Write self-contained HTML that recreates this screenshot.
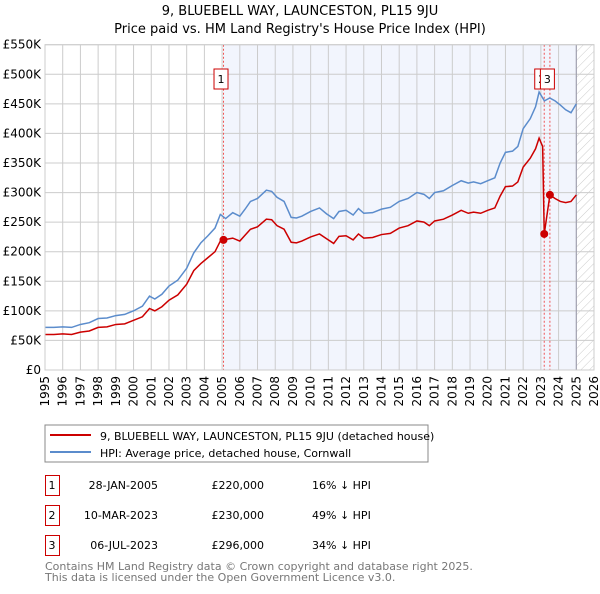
<!DOCTYPE html>
<html><head><meta charset="utf-8"><style>
body{margin:0;background:#fff;font-family:"DejaVu Sans","Liberation Sans",sans-serif;}
svg text{font-family:"DejaVu Sans","Liberation Sans",sans-serif;}
</style></head><body>
<svg id="c" width="600" height="590" viewBox="0 0 600 590" xmlns="http://www.w3.org/2000/svg">
<defs><pattern id="hatch" width="6" height="6" patternUnits="userSpaceOnUse" patternTransform="rotate(45)"><line x1="0" y1="0" x2="0" y2="6" stroke="#ccc" stroke-width="1"/></pattern></defs>
<text x="300" y="15" text-anchor="middle" font-size="13">9, BLUEBELL WAY, LAUNCESTON, PL15 9JU</text>
<text x="300" y="33" text-anchor="middle" font-size="13">Price paid vs. HM Land Registry's House Price Index (HPI)</text>
<g id="plot"></g>
<rect x="45" y="425" width="383" height="37" fill="#fff" stroke="#888"/>
<line x1="50" y1="435" x2="91" y2="435" stroke="#cc0000" stroke-width="2"/>
<text x="100" y="440" font-size="11">9, BLUEBELL WAY, LAUNCESTON, PL15 9JU (detached house)</text>
<line x1="50" y1="452" x2="91" y2="452" stroke="#5b8ccc" stroke-width="2"/>
<text x="100" y="457" font-size="11">HPI: Average price, detached house, Cornwall</text>
<g font-size="11">
<rect x="45.5" y="475.5" width="14" height="20" fill="none" stroke="#cc0000"/><text x="52" y="489" text-anchor="middle">1</text>
<text x="158" y="489" text-anchor="end">28-JAN-2005</text><text x="264" y="489" text-anchor="end">£220,000</text><text x="312" y="489">16% ↓ HPI</text>
<rect x="45.5" y="505.5" width="14" height="20" fill="none" stroke="#cc0000"/><text x="52" y="519" text-anchor="middle">2</text>
<text x="158" y="519" text-anchor="end">10-MAR-2023</text><text x="264" y="519" text-anchor="end">£230,000</text><text x="312" y="519">49% ↓ HPI</text>
<rect x="45.5" y="535.5" width="14" height="20" fill="none" stroke="#cc0000"/><text x="52" y="549" text-anchor="middle">3</text>
<text x="158" y="549" text-anchor="end">06-JUL-2023</text><text x="264" y="549" text-anchor="end">£296,000</text><text x="312" y="549">34% ↓ HPI</text>
</g>
<text x="45" y="570" font-size="11" fill="#777">Contains HM Land Registry data © Crown copyright and database right 2025.</text>
<text x="45" y="581" font-size="11" fill="#777">This data is licensed under the Open Government Licence v3.0.</text>
</svg>
<script>
const yTicks=[0,50,100,150,200,250,300,350,400,450,500,550];
const yTickLabels=["£0","£50K","£100K","£150K","£200K","£250K","£300K","£350K","£400K","£450K","£500K","£550K"];
const xYears=[1995,1996,1997,1998,1999,2000,2001,2002,2003,2004,2005,2006,2007,2008,2009,2010,2011,2012,2013,2014,2015,2016,2017,2018,2019,2020,2021,2022,2023,2024,2025,2026];
const hpiT=[1995,1995.5,1996,1996.5,1997,1997.5,1998,1998.5,1999,1999.5,2000,2000.5,2000.9,2001.2,2001.6,2002,2002.5,2003,2003.4,2003.8,2004.2,2004.6,2004.9,2005.2,2005.6,2006,2006.3,2006.6,2007,2007.5,2007.8,2008.1,2008.5,2008.9,2009.2,2009.5,2010,2010.5,2010.9,2011.3,2011.6,2012,2012.4,2012.7,2013,2013.5,2014,2014.5,2015,2015.5,2016,2016.4,2016.7,2017,2017.5,2018,2018.5,2018.9,2019.2,2019.6,2020,2020.4,2020.7,2021,2021.4,2021.7,2022,2022.4,2022.7,2022.9,2023.2,2023.5,2023.8,2024.1,2024.4,2024.7,2025];
const hpiV=[72,72,73,72,77,80,87,88,92,94,100,108,125,120,128,142,152,172,198,215,227,240,263,256,266,260,272,285,290,304,302,292,285,258,257,260,268,274,264,256,268,270,262,273,265,266,272,275,285,290,300,297,290,300,303,312,320,316,318,315,320,325,350,368,370,378,408,425,445,470,455,460,455,448,440,435,450];
const priceT=[1995,1995.5,1996,1996.5,1997,1997.5,1998,1998.5,1999,1999.5,2000,2000.5,2000.9,2001.2,2001.6,2002,2002.5,2003,2003.4,2003.8,2004.2,2004.6,2004.9,2005.08,2005.6,2006,2006.3,2006.6,2007,2007.5,2007.8,2008.1,2008.5,2008.9,2009.2,2009.5,2010,2010.5,2010.9,2011.3,2011.6,2012,2012.4,2012.7,2013,2013.5,2014,2014.5,2015,2015.5,2016,2016.4,2016.7,2017,2017.5,2018,2018.5,2018.9,2019.2,2019.6,2020,2020.4,2020.7,2021,2021.4,2021.7,2022,2022.4,2022.7,2022.9,2023.1,2023.19,2023.51,2023.8,2024.1,2024.4,2024.7,2025];
const priceV=[60,60,61,60,64,66,72,73,77,78,84,90,104,100,107,118,127,145,168,180,190,200,218,220,223,218,228,238,242,255,254,244,238,216,215,218,225,230,222,214,226,227,220,230,223,224,229,231,240,244,252,250,244,252,255,262,270,265,267,265,270,274,294,310,311,318,343,358,374,392,378,230,296,290,285,283,285,296];
const sales=[{id:"1",t:2005.08,v:220},{id:"2",t:2023.19,v:230},{id:"3",t:2023.51,v:296}];
const X0=45,X1=594,Y0=370,Y1=44.7;
const xs=t=>X0+(t-1995)/(2026-1995)*(X1-X0);
const ys=v=>Y0-v/550*(Y0-Y1);
const NS="http://www.w3.org/2000/svg",g=document.getElementById('plot');
function mk(tag,a,p){const e=document.createElementNS(NS,tag);for(const k in a)e.setAttribute(k,a[k]);(p||g).appendChild(e);return e;}
const bg=mk('rect',{x:xs(2005.08),y:Y1,width:xs(2025)-xs(2005.08),height:Y0-Y1,fill:'#f2f5fd'});


const hat=mk('rect',{x:xs(2025),y:Y1,width:X1-xs(2025),height:Y0-Y1,fill:'url(#hatch)'});


yTicks.forEach((v,i)=>{
 const l=mk('line',{x1:X0,x2:X1,y1:ys(v),y2:ys(v),stroke:'#ccc'});
 
 
 const t=mk('text',{x:41,y:ys(v)+4,'text-anchor':'end','font-size':12});
 t.textContent=yTickLabels[i];
 
 
});
xYears.forEach(yr=>{
 const l=mk('line',{x1:xs(yr),x2:xs(yr),y1:Y1,y2:Y0,stroke:'#ccc'});
 
 
 const t=mk('text',{x:0,y:0,'font-size':12,'text-anchor':'end',transform:`translate(${xs(yr)+4},${Y0+6}) rotate(-90)`});
 t.textContent=yr;
 
 
});
const ax=mk('line',{x1:xs(2025),x2:xs(2025),y1:Y1,y2:Y0,stroke:'#99a'});


sales.forEach(s=>{
 const l=mk('line',{x1:xs(s.t),x2:xs(s.t),y1:Y1,y2:Y0,stroke:'#e55','stroke-dasharray':'2,2'});
 
 
});
const hp=mk('polyline',{points:hpiT.map((t,i)=>xs(t)+','+ys(hpiV[i])).join(' '),fill:'none',stroke:'#5b8ccc','stroke-width':1.5});


const pp=mk('polyline',{points:priceT.map((t,i)=>xs(t)+','+ys(priceV[i])).join(' '),fill:'none',stroke:'#cc0000','stroke-width':1.5});


sales.forEach(s=>{
 const c=mk('circle',{cx:xs(s.t),cy:ys(s.v),r:4,fill:'#cc0000'});
 
 
 const bx=xs(s.t)-9.5,w=14;
 const r=mk('rect',{x:bx,y:69,width:w,height:20,fill:'#fff',stroke:'#cc0000'});
 
 
 const t=mk('text',{x:bx+w/2,y:83,'text-anchor':'middle','font-size':11});
 t.textContent=s.id;
 
 
});
const fr=mk('rect',{x:X0,y:Y1,width:X1-X0,height:Y0-Y1,fill:'none',stroke:'#ccc'});


</script>
</body></html>
